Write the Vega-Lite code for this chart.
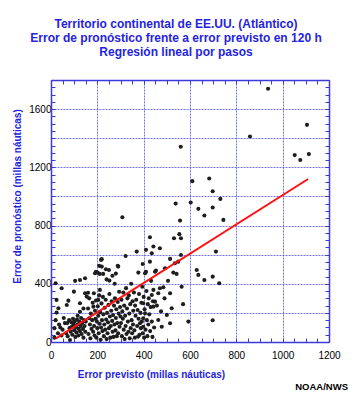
{
  "$schema": "https://vega.github.io/schema/vega-lite/v6.json",
  "width": 278,
  "height": 262,
  "autosize": {"type": "none"},
  "padding": {"left": 51, "top": 80, "right": 25, "bottom": 53},
  "background": "white",
  "config": {"view": {"stroke": null}, "font": "Liberation Sans"},
  "title": {
    "text": ["Territorio continental de EE.UU. (Atlántico)", "Error de pronóstico frente a error previsto en 120 h", "Regresión lineal por pasos"],
    "font": "Liberation Sans",
    "fontSize": 12,
    "fontWeight": "bold",
    "color": "#2424e0",
    "lineHeight": 14,
    "anchor": "middle",
    "dx": -14,
    "offset": 16
  },
  "datasets": {
    "pts": [
      {"x":20,"y":404},{"x":46,"y":369},{"x":24,"y":289},{"x":32,"y":232},{"x":24,"y":202},{"x":20,"y":150},{"x":35,"y":120},{"x":15,"y":95},{"x":40,"y":100},{"x":30,"y":60},{"x":45,"y":45},{"x":55,"y":165},{"x":60,"y":130},{"x":50,"y":85},{"x":15,"y":30},
      {"x":68,"y":254},{"x":75,"y":284},{"x":82,"y":14},{"x":65,"y":60},{"x":70,"y":130},{"x":72,"y":40},{"x":78,"y":150},{"x":80,"y":95},{"x":85,"y":70},{"x":88,"y":135},{"x":90,"y":105},{"x":92,"y":50},{"x":95,"y":160},{"x":98,"y":120},{"x":100,"y":80},{"x":102,"y":140},{"x":105,"y":35},{"x":108,"y":100},{"x":110,"y":65},{"x":112,"y":155},{"x":115,"y":120},{"x":118,"y":45},{"x":120,"y":90},{"x":122,"y":140},{"x":125,"y":75},{"x":128,"y":110},{"x":130,"y":165},{"x":132,"y":55},{"x":135,"y":130},{"x":138,"y":90},{"x":140,"y":30},{"x":142,"y":150},{"x":145,"y":110},{"x":148,"y":70},{"x":150,"y":140},{"x":104,"y":420},{"x":125,"y":426},{"x":147,"y":438},{"x":99,"y":346},{"x":125,"y":266},{"x":125,"y":208},{"x":140,"y":230},{"x":154,"y":312},{"x":115,"y":180},
      {"x":190,"y":472},{"x":201,"y":477},{"x":219,"y":518},{"x":219,"y":569},{"x":237,"y":500},{"x":216,"y":564},{"x":208,"y":523},{"x":250,"y":495},{"x":288,"y":523},{"x":194,"y":483},{"x":210,"y":468},{"x":225,"y":468},{"x":252,"y":422},{"x":290,"y":518},{"x":308,"y":857},{"x":322,"y":591},{"x":211,"y":358},{"x":204,"y":289},{"x":183,"y":243},{"x":165,"y":163},{"x":147,"y":335},{"x":160,"y":338},{"x":240,"y":430},{"x":265,"y":455},{"x":280,"y":470},{"x":275,"y":400},
      {"x":160,"y":230},{"x":162,"y":55},{"x":165,"y":300},{"x":168,"y":120},{"x":170,"y":25},{"x":172,"y":195},{"x":175,"y":90},{"x":178,"y":150},{"x":180,"y":270},{"x":182,"y":70},{"x":185,"y":335},{"x":186,"y":110},{"x":188,"y":45},{"x":190,"y":215},{"x":192,"y":160},{"x":194,"y":285},{"x":196,"y":30},{"x":198,"y":140},{"x":200,"y":95},{"x":202,"y":245},{"x":204,"y":180},{"x":206,"y":60},{"x":208,"y":320},{"x":210,"y":125},{"x":212,"y":205},{"x":214,"y":15},{"x":216,"y":100},{"x":218,"y":265},{"x":220,"y":150},{"x":222,"y":75},{"x":224,"y":310},{"x":226,"y":190},{"x":228,"y":40},{"x":230,"y":120},{"x":232,"y":235},{"x":234,"y":85},{"x":236,"y":290},{"x":238,"y":155},{"x":240,"y":20},{"x":242,"y":200},{"x":244,"y":60},{"x":246,"y":135},{"x":248,"y":255},{"x":250,"y":95},{"x":252,"y":330},{"x":254,"y":175},{"x":256,"y":30},{"x":258,"y":110},{"x":260,"y":215},{"x":262,"y":280},{"x":264,"y":145},{"x":266,"y":70},{"x":268,"y":185},{"x":270,"y":35},{"x":272,"y":250},{"x":274,"y":120},{"x":276,"y":300},{"x":278,"y":80},{"x":280,"y":165},{"x":282,"y":225},{"x":284,"y":40},{"x":286,"y":130},{"x":288,"y":275},{"x":290,"y":60},{"x":292,"y":195},{"x":294,"y":345},{"x":296,"y":105},{"x":298,"y":240},{"x":300,"y":175},
      {"x":302,"y":130},{"x":304,"y":290},{"x":306,"y":40},{"x":308,"y":210},{"x":310,"y":160},{"x":312,"y":340},{"x":314,"y":85},{"x":316,"y":250},{"x":318,"y":20},{"x":320,"y":180},{"x":322,"y":110},{"x":324,"y":370},{"x":326,"y":55},{"x":328,"y":230},{"x":330,"y":300},{"x":332,"y":140},{"x":334,"y":70},{"x":336,"y":320},{"x":338,"y":195},{"x":340,"y":25},{"x":342,"y":260},{"x":344,"y":95},{"x":346,"y":400},{"x":348,"y":150},{"x":350,"y":60},{"x":352,"y":280},{"x":354,"y":120},{"x":355,"y":215},{"x":358,"y":340},{"x":360,"y":80},{"x":362,"y":30},{"x":363,"y":250},{"x":365,"y":180},{"x":368,"y":290},{"x":370,"y":621},{"x":372,"y":110},{"x":374,"y":220},{"x":376,"y":37},{"x":377,"y":477},{"x":378,"y":160},{"x":380,"y":330},{"x":382,"y":50},{"x":384,"y":129},{"x":386,"y":200},{"x":388,"y":95},{"x":390,"y":270},{"x":392,"y":140},{"x":394,"y":380},{"x":396,"y":536},{"x":396,"y":60},{"x":398,"y":266},{"x":398,"y":163},{"x":398,"y":105},{"x":400,"y":310},{"x":402,"y":30},{"x":404,"y":225},{"x":406,"y":197},{"x":406,"y":472},{"x":408,"y":85},{"x":410,"y":633},{"x":410,"y":483},{"x":412,"y":350},{"x":414,"y":150},{"x":416,"y":40},{"x":418,"y":260},{"x":420,"y":120},{"x":422,"y":300},{"x":424,"y":190},{"x":427,"y":720},{"x":427,"y":552},{"x":428,"y":75},{"x":430,"y":240},{"x":432,"y":420},{"x":435,"y":610},{"x":435,"y":323},{"x":435,"y":140},{"x":438,"y":35},{"x":440,"y":280},{"x":442,"y":358},{"x":442,"y":656},{"x":442,"y":243},{"x":445,"y":100},
      {"x":449,"y":483},{"x":449,"y":277},{"x":453,"y":490},{"x":457,"y":250},{"x":463,"y":335},{"x":463,"y":151},{"x":470,"y":644},{"x":470,"y":369},{"x":475,"y":210},{"x":478,"y":105},{"x":485,"y":376},{"x":490,"y":300},{"x":492,"y":507},{"x":500,"y":186},{"x":505,"y":420},{"x":514,"y":571},{"x":514,"y":335},{"x":514,"y":129},{"x":521,"y":232},{"x":528,"y":477},{"x":531,"y":713},{"x":535,"y":541},{"x":542,"y":468},{"x":549,"y":552},{"x":554,"y":741},{"x":557,"y":834},{"x":561,"y":713},{"x":561,"y":598},{"x":564,"y":380},{"x":570,"y":260},{"x":593,"y":140},
      {"x":560,"y":1341},{"x":610,"y":1105},{"x":538,"y":951},{"x":603,"y":958},{"x":636,"y":915},{"x":937,"y":1740},{"x":1105,"y":1492},{"x":859,"y":1412},{"x":1052,"y":1284},{"x":1076,"y":1250},{"x":1113,"y":1291},{"x":683,"y":1123},{"x":698,"y":1036},{"x":731,"y":983},{"x":698,"y":924},{"x":662,"y":869},{"x":744,"y":839},{"x":712,"y":621},{"x":629,"y":495},{"x":636,"y":461},{"x":662,"y":426},{"x":698,"y":449},{"x":726,"y":404},{"x":698,"y":149}
    ],
    "fit": [{"x": 20, "y": 23}, {"x": 1110, "y": 1120}],
    "credit": [{"label": "NOAA/NWS", "x": 1282, "y": -330}]
  },
  "resolve": {"axis": {"x": "independent", "y": "independent"}},
  "layer": [
    {
      "data": {"name": "pts"},
      "mark": {"type": "circle", "size": 17, "color": "#1e1e1e", "opacity": 1},
      "encoding": {
        "x": {
          "field": "x", "type": "quantitative",
          "scale": {"domain": [0, 1200], "nice": false},
          "axis": {
            "orient": "bottom",
            "values": [0,50,100,150,200,250,300,350,400,450,500,550,600,650,700,750,800,850,900,950,1000,1050,1100,1150,1200],
            "tickSize": -4, "tickColor": "#3a3ad8", "tickWidth": 1,
            "domainColor": "#3a3ad8", "domainWidth": 1.5,
            "grid": true, "gridColor": "#5c5ce2", "gridDash": [2, 1], "gridWidth": 1,
            "gridOpacity": {"condition": {"test": "datum.value % 200 === 0 && datum.value > 0 && datum.value < 1200", "value": 0.85}, "value": 0},
            "labelExpr": "datum.value % 200 === 0 ? '' + datum.value : ''",
            "labelOverlap": false, "labelFlush": false,
            "labelFont": "Liberation Sans", "labelFontSize": 10, "labelColor": "black", "labelPadding": 12,
            "title": "Error previsto (millas náuticas)",
            "titleFont": "Liberation Sans", "titleFontSize": 10, "titleFontWeight": "bold", "titleColor": "#2424e0",
            "titleX": 100, "titleY": 27, "titleBaseline": "top", "titleAlign": "center"
          }
        },
        "y": {
          "field": "y", "type": "quantitative",
          "scale": {"domain": [0, 1800], "nice": false},
          "axis": {
            "orient": "left",
            "values": [0,50,100,150,200,250,300,350,400,450,500,550,600,650,700,750,800,850,900,950,1000,1050,1100,1150,1200,1250,1300,1350,1400,1450,1500,1550,1600,1650,1700,1750,1800],
            "tickSize": -4, "tickColor": "#3a3ad8", "tickWidth": 1,
            "domainColor": "#3a3ad8", "domainWidth": 1.5,
            "grid": true, "gridColor": "#5c5ce2", "gridDash": [2, 1], "gridWidth": 1,
            "gridOpacity": {"condition": {"test": "datum.value % 200 === 0 && datum.value > 0 && datum.value < 1800", "value": 0.85}, "value": 0},
            "labelExpr": "datum.value % 400 === 0 && datum.value < 1800 ? '' + datum.value : ''",
            "labelOverlap": false, "labelFlush": false,
            "labelFont": "Liberation Sans", "labelFontSize": 10, "labelColor": "black", "labelPadding": 4,
            "title": "Error de pronóstico (millas náuticas)",
            "titleFont": "Liberation Sans", "titleFontSize": 10, "titleFontWeight": "bold", "titleColor": "#2424e0",
            "titleX": -29, "titleY": 116, "titleAlign": "center", "titleAngle": -90, "titleBaseline": "bottom"
          }
        }
      }
    },
    {
      "data": {"name": "fit"},
      "mark": {"type": "line", "color": "#ff1010", "strokeWidth": 2},
      "encoding": {
        "x": {
          "field": "x", "type": "quantitative",
          "axis": {
            "orient": "top",
            "values": [0,50,100,150,200,250,300,350,400,450,500,550,600,650,700,750,800,850,900,950,1000,1050,1100,1150,1200],
            "tickSize": -4, "tickColor": "#3a3ad8", "tickWidth": 1,
            "domainColor": "#3a3ad8", "domainWidth": 1.5,
            "grid": false, "labels": false, "title": null
          }
        },
        "y": {
          "field": "y", "type": "quantitative",
          "axis": {
            "orient": "right",
            "values": [0,50,100,150,200,250,300,350,400,450,500,550,600,650,700,750,800,850,900,950,1000,1050,1100,1150,1200,1250,1300,1350,1400,1450,1500,1550,1600,1650,1700,1750,1800],
            "tickSize": -4, "tickColor": "#3a3ad8", "tickWidth": 1,
            "domainColor": "#3a3ad8", "domainWidth": 1.5,
            "grid": false, "labels": false, "title": null
          }
        }
      }
    },
    {
      "data": {"name": "credit"},
      "mark": {"type": "text", "align": "right", "baseline": "alphabetic", "font": "Liberation Sans", "fontSize": 9.5, "fontWeight": "bold", "color": "black"},
      "encoding": {
        "x": {"field": "x", "type": "quantitative", "axis": null},
        "y": {"field": "y", "type": "quantitative", "axis": null},
        "text": {"field": "label"}
      }
    }
  ]
}
